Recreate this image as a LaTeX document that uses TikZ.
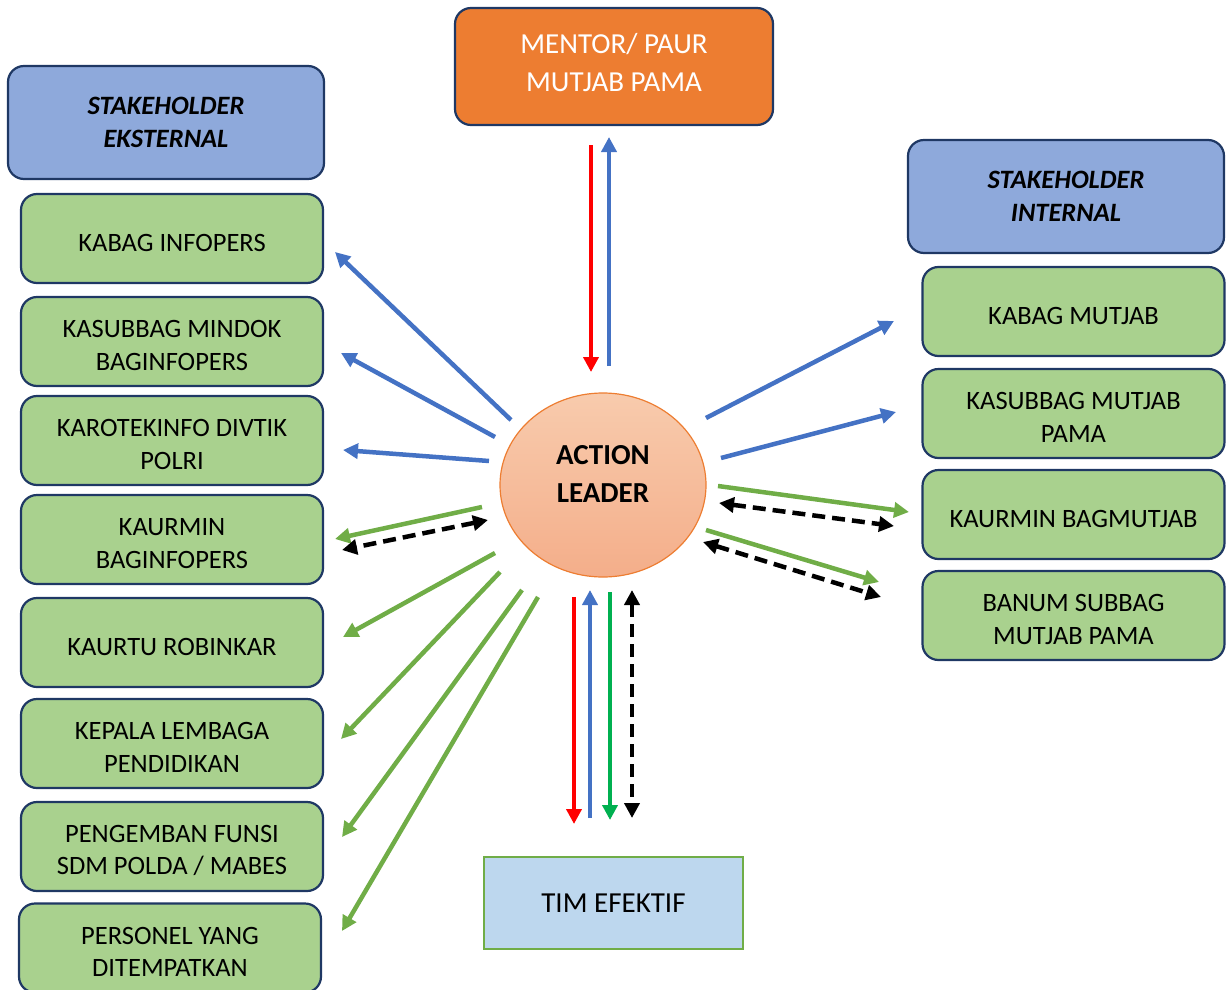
\documentclass[tikz,border=0pt]{standalone}
\usepackage{fontspec}
\setmainfont{Carlito}
\usetikzlibrary{arrows.meta,shapes.geometric}
\definecolor{navy}{HTML}{1F3864}
\definecolor{boxgreen}{HTML}{A9D18E}
\definecolor{boxblue}{HTML}{8EA9DB}
\definecolor{orng}{HTML}{ED7D31}
\definecolor{lblue}{HTML}{BDD7EE}
\definecolor{ablue}{HTML}{4472C4}
\definecolor{agreen}{HTML}{70AD47}
\definecolor{bgreen}{HTML}{00B050}
\definecolor{salmonT}{HTML}{F8CBAD}
\definecolor{salmonB}{HTML}{F4AE8A}
\newcommand\gnode[3]{%
  \node[gbox] (#1) at (#2) {};
  \node[gtxt] (#1t) at ([yshift=-4pt]#1.center) {#3};}
\begin{document}
\begin{tikzpicture}[x=1pt,y=-1pt,
 box/.style={draw=navy, line width=2.2pt, rounded corners=16pt, align=center,
   font=\fontsize{26.5}{32.5}\selectfont, inner sep=0pt},
 gbox/.style={box, fill=boxgreen, minimum width=302pt, minimum height=89pt},
 gtxt/.style={align=center, inner sep=0pt, font=\fontsize{26.5}{32.5}\selectfont},
 sbox/.style={box, fill=boxblue, minimum width=316pt, minimum height=113pt,
   font=\fontsize{26.5}{33}\selectfont\bfseries\itshape},
 arr/.style={line width=4.5pt, -{Triangle[length=15pt,width=15pt]}},
 darr/.style={line width=4.5pt, black, dash pattern=on 13pt off 7pt,
   {Triangle[length=15pt,width=15pt]}-{Triangle[length=15pt,width=15pt]}},
]
\useasboundingbox (0,0) rectangle (1226,990);

% top and center
\node[box, fill=orng, minimum width=318pt, minimum height=117pt] (mentor) at (614,66.5) {};
\node[align=center, inner sep=0pt, text=white, font=\fontsize{29}{38}\selectfont]
  (mentort) at ([yshift=4pt]mentor.center) {MENTOR/ PAUR\\MUTJAB PAMA};
\node[ellipse, draw=orng, line width=1.2pt, top color=salmonT, bottom color=salmonB,
  minimum width=206pt, minimum height=184pt, inner sep=0pt] (al) at (603,485) {};
\node[align=center, inner sep=0pt, font=\fontsize{29}{38}\selectfont\bfseries]
  (alt) at ([yshift=11pt]al.center) {ACTION\\LEADER};
\node[draw=agreen, line width=2pt, fill=lblue, minimum width=259pt, minimum height=92pt,
  font=\fontsize{29}{32}\selectfont, inner sep=0pt] (tim) at (613.5,903) {TIM EFEKTIF};

% left column
\node[sbox] (sek) at (166,122.5) {STAKEHOLDER\\EKSTERNAL};
\gnode{l1}{172,238.5}{KABAG INFOPERS}
\gnode{l2}{172,341.5}{KASUBBAG MINDOK\\BAGINFOPERS}
\gnode{l3}{172,440.5}{KAROTEKINFO DIVTIK\\POLRI}
\gnode{l4}{172,539.5}{KAURMIN\\BAGINFOPERS}
\gnode{l5}{172,642.5}{KAURTU ROBINKAR}
\gnode{l6}{172,743.5}{KEPALA LEMBAGA\\PENDIDIKAN}
\gnode{l7}{172,846.5}{PENGEMBAN FUNSI\\SDM POLDA / MABES}
\gnode{l8}{170,948}{PERSONEL YANG\\DITEMPATKAN}

% right column
\node[sbox] (sin) at (1066,196.5) {STAKEHOLDER\\INTERNAL};
\gnode{r1}{1073.5,311.5}{KABAG MUTJAB}
\gnode{r2}{1073.5,413.5}{KASUBBAG MUTJAB\\PAMA}
\gnode{r3}{1073.5,514.5}{KAURMIN BAGMUTJAB}
\gnode{r4}{1073.5,615.5}{BANUM SUBBAG\\MUTJAB PAMA}

% arrow end points
\coordinate (mr1) at (591,145); \coordinate (mr2) at (591,372);
\coordinate (mb1) at (609,366); \coordinate (mb2) at (609,137);
\coordinate (lb1a) at (511,420); \coordinate (lb1b) at (335,252);
\coordinate (lb2a) at (495,437); \coordinate (lb2b) at (341,353);
\coordinate (lb3a) at (489,461); \coordinate (lb3b) at (343,450);
\coordinate (lg4a) at (482,507); \coordinate (lg4b) at (335,539);
\coordinate (lk4a) at (488,520); \coordinate (lk4b) at (342,550);
\coordinate (lg5a) at (495,553); \coordinate (lg5b) at (343,637);
\coordinate (lg6a) at (500,572); \coordinate (lg6b) at (341,739);
\coordinate (lg7a) at (522,590); \coordinate (lg7b) at (342,837);
\coordinate (lg8a) at (538,597); \coordinate (lg8b) at (342,931);
\coordinate (rb1a) at (706,418); \coordinate (rb1b) at (894,321);
\coordinate (rb2a) at (721,458); \coordinate (rb2b) at (896,412);
\coordinate (rg3a) at (718,486); \coordinate (rg3b) at (909,512);
\coordinate (rk3a) at (719,503); \coordinate (rk3b) at (894,526);
\coordinate (rg4a) at (706,530); \coordinate (rg4b) at (879,582);
\coordinate (rk4a) at (703,542); \coordinate (rk4b) at (881,597);
\coordinate (br1) at (574,597); \coordinate (br2) at (574,824);
\coordinate (bb1) at (590,818); \coordinate (bb2) at (590,590);
\coordinate (bg1) at (610,592); \coordinate (bg2) at (610,820);
\coordinate (bk1) at (632,590); \coordinate (bk2) at (632,818);

% arrows
\draw[arr, red] (mr1) -- (mr2);
\draw[arr, ablue] (mb1) -- (mb2);
\draw[arr, ablue] (lb1a) -- (lb1b);
\draw[arr, ablue] (lb2a) -- (lb2b);
\draw[arr, ablue] (lb3a) -- (lb3b);
\draw[arr, agreen] (lg4a) -- (lg4b);
\draw[darr] (lk4a) -- (lk4b);
\draw[arr, agreen] (lg5a) -- (lg5b);
\draw[arr, agreen] (lg6a) -- (lg6b);
\draw[arr, agreen] (lg7a) -- (lg7b);
\draw[arr, agreen] (lg8a) -- (lg8b);
\draw[arr, ablue] (rb1a) -- (rb1b);
\draw[arr, ablue] (rb2a) -- (rb2b);
\draw[arr, agreen] (rg3a) -- (rg3b);
\draw[darr] (rk3a) -- (rk3b);
\draw[arr, agreen] (rg4a) -- (rg4b);
\draw[darr] (rk4a) -- (rk4b);
\draw[arr, red] (br1) -- (br2);
\draw[arr, ablue] (bb1) -- (bb2);
\draw[arr, bgreen] (bg1) -- (bg2);
\draw[darr] (bk1) -- (bk2);
\end{tikzpicture}
\end{document}
